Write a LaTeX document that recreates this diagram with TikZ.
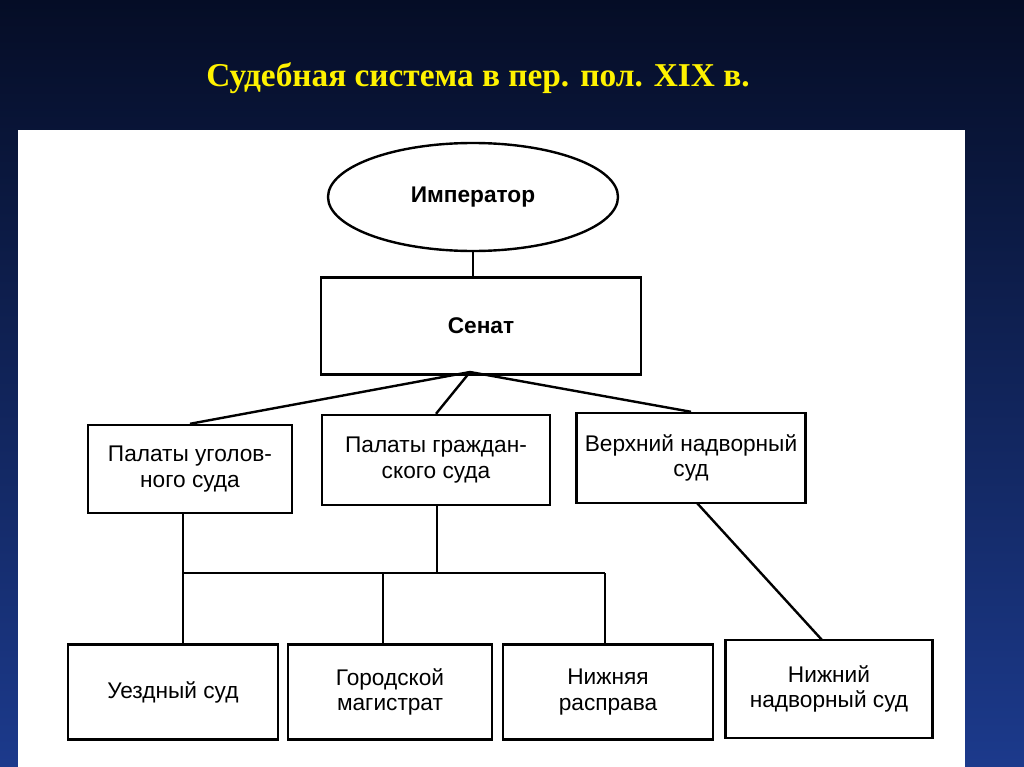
\documentclass[tikz,border=0pt]{standalone}
\usepackage{fontspec}
\setmainfont{Liberation Sans}
\newfontfamily\titlefont{Liberation Serif}
\usetikzlibrary{shapes.geometric}
\definecolor{navytop}{HTML}{050D26}
\definecolor{navybot}{HTML}{1C3A8C}
\definecolor{ttl}{HTML}{FFF200}
\tikzset{
 bx/.style={draw,line width=1.8pt,font=\fontsize{17}{19}\selectfont,align=center,inner sep=0pt},
 ln/.style={line width=1.8pt}
}
\begin{document}
\begin{tikzpicture}[x=0.75pt,y=-0.75pt]
\useasboundingbox (0,0) rectangle (1024,767);
\shade[top color=navytop,bottom color=navybot] (0,0) rectangle (1024,767);
\node[font=\titlefont\bfseries\fontsize{25}{29}\selectfont,text=ttl] (title) at (478,78) {Судебная система в пер. пол. XIX в.};
\fill[white] (18,130) rectangle (965,767);
\node[draw,ellipse,line width=1.8pt,minimum width=290*0.75pt,minimum height=108*0.75pt,font=\bfseries\fontsize{17}{19}\selectfont] (imp) at (473,197) {Император};
\node[bx,minimum width=320*0.75pt,minimum height=97*0.75pt,font=\bfseries\fontsize{17}{19}\selectfont] (sen) at (481,326) {Сенат};
\node[bx,minimum width=204*0.75pt,minimum height=88*0.75pt] (pu) at (190,469) {Палаты уголов-\\ного суда};
\node[bx,minimum width=228*0.75pt,minimum height=90*0.75pt] (pg) at (436,460) {Палаты граждан-\\ского суда};
\node[bx,minimum width=229*0.75pt,minimum height=90*0.75pt] (vn) at (691,458) {Верхний надворный\\суд};
\node[bx,minimum width=210*0.75pt,minimum height=95*0.75pt] (uz) at (173,692) {Уездный суд};
\node[bx,minimum width=204*0.75pt,minimum height=95*0.75pt] (gm) at (390,692) {Городской\\магистрат};
\node[bx,minimum width=210*0.75pt,minimum height=95*0.75pt] (nr) at (608,692) {Нижняя\\расправа};
\node[bx,minimum width=207*0.75pt,minimum height=98*0.75pt] (nn) at (829,689) {Нижний\\надворный суд};
\coordinate (hub) at (470,372);
\draw[ln] (imp.south) -- (sen.north -| imp.south);
\draw[ln] (hub) -- (pu.north);
\draw[ln] (hub) -- (pg.north);
\draw[ln] (hub) -- (vn.north);
\coordinate (j) at (437,573);
\draw[ln] (183,513) -- (183,645);
\draw[ln] (pg.south -| j) -- (j);
\draw[ln] (183,573) -- (605,573);
\draw[ln] (383,573) -- (383,645);
\draw[ln] (605,573) -- (605,645);
\draw[ln] (697,503) -- (822,640);
\end{tikzpicture}
\end{document}
